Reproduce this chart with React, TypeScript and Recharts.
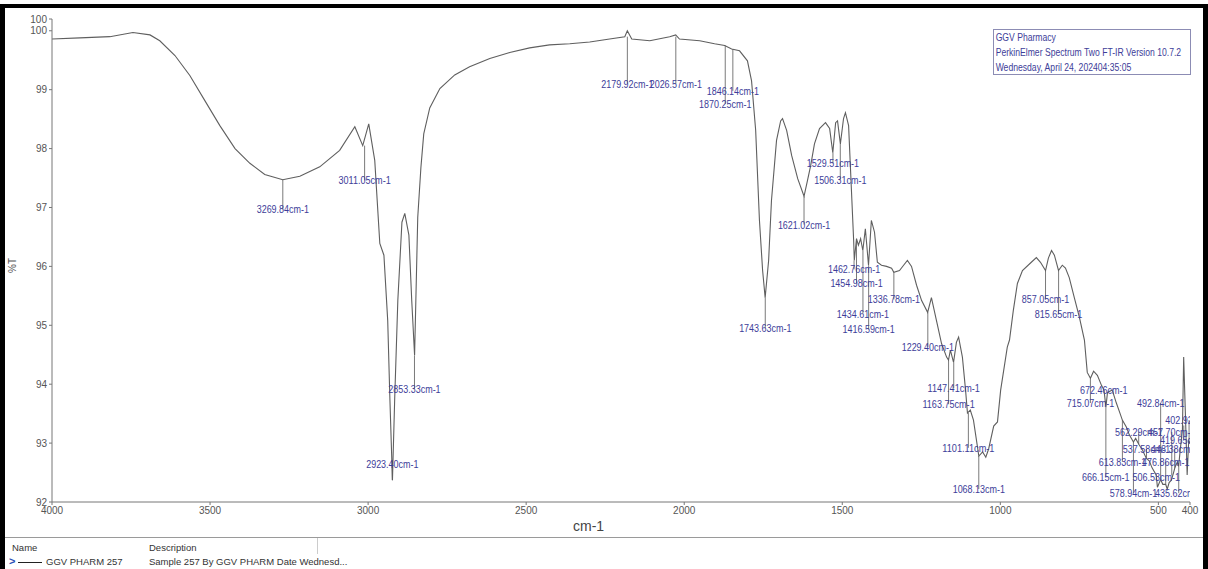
import { ComposedChart, Line, Scatter, XAxis, YAxis, ReferenceLine } from 'recharts';

// spectrum, wavenumber (cm-1) and %T
const wavenumbers = [
  4000, 3912, 3817, 3744, 3690, 3659, 3611, 3564, 3516, 3469, 3421, 3374, 3327, 3270, 3216, 3153,
  3090, 3042, 3017, 2998, 2979, 2963, 2950, 2938, 2931, 2923, 2916, 2906, 2893, 2884, 2871, 2862,
  2853, 2849, 2843, 2833, 2824, 2805, 2773, 2726, 2679, 2615, 2552, 2489, 2426, 2362, 2299, 2236,
  2188, 2180, 2166, 2109, 2046, 2027, 2015, 1951, 1904, 1872, 1850, 1825, 1800, 1787, 1774, 1762,
  1752, 1744, 1733, 1724, 1708, 1695, 1689, 1676, 1660, 1641, 1621, 1610, 1600, 1588, 1572, 1553,
  1540, 1530, 1521, 1515, 1506, 1496, 1490, 1480, 1471, 1464, 1462, 1455, 1449, 1442, 1435, 1427,
  1417, 1408, 1398, 1389, 1376, 1360, 1344, 1337, 1319, 1306, 1294, 1281, 1265, 1249, 1230, 1218,
  1202, 1186, 1170, 1164, 1158, 1148, 1139, 1132, 1120, 1110, 1104, 1095, 1085, 1068, 1056, 1046,
  1037, 1021, 1009, 999, 978, 971, 959, 946, 930, 902, 886, 873, 857, 848, 838, 829,
  816, 804, 794, 782, 766, 750, 734, 725, 715, 705, 693, 680, 672, 666, 661, 646,
  633, 623, 614, 601, 592, 579, 572, 562, 550, 538, 529, 520, 507, 503, 493, 486,
  477, 472, 466, 459, 452, 448, 440, 436, 431, 424, 420, 414, 409, 404, 400,
];
const transmittance = [
  99.86, 99.88, 99.9, 99.97, 99.93, 99.83, 99.58, 99.24, 98.81, 98.39, 98.0, 97.75, 97.56, 97.47, 97.53, 97.69,
  97.97, 98.37, 98.05, 98.42, 97.8, 96.39, 96.19, 95.08, 93.73, 92.37, 93.73, 95.42, 96.75, 96.9, 96.53, 95.42,
  94.49, 95.42, 96.83, 97.68, 98.25, 98.69, 99.02, 99.25, 99.39, 99.53, 99.63, 99.71, 99.76, 99.78, 99.81, 99.86,
  99.9, 100.0, 99.86, 99.83, 99.9, 99.93, 99.86, 99.83, 99.78, 99.75, 99.69, 99.66, 99.49, 99.15, 98.31, 96.78,
  95.93, 95.47, 96.1, 97.12, 98.14, 98.47, 98.51, 98.31, 97.88, 97.49, 97.19, 97.46, 97.71, 98.08, 98.34, 98.44,
  98.34, 97.93, 98.44, 98.47, 98.08, 98.51, 98.61, 98.39, 97.29, 96.44, 96.1, 96.47, 96.36, 96.47, 96.27, 96.64,
  96.02, 96.78, 96.58, 96.07, 96.02, 96.0, 95.97, 95.9, 95.93, 96.02, 96.1, 96.0, 95.68, 95.42, 95.22, 95.47,
  95.08, 94.69, 94.46, 94.41, 94.58, 94.37, 94.71, 94.8, 94.46, 93.9, 93.51, 93.56, 93.39, 92.78, 92.85, 92.76,
  92.9, 93.29, 93.36, 93.9, 94.63, 94.75, 95.25, 95.71, 95.93, 96.07, 96.15, 96.07, 95.93, 96.14, 96.27, 96.19,
  95.93, 96.02, 95.97, 95.81, 95.47, 95.14, 94.75, 94.2, 94.1, 94.22, 94.15, 93.98, 93.9, 93.61, 93.86, 93.9,
  93.68, 93.53, 93.39, 93.27, 93.14, 93.02, 93.08, 92.98, 92.88, 92.74, 92.7, 92.58, 92.46, 92.25, 92.38, 92.3,
  92.3, 92.22, 92.33, 92.37, 92.5, 92.58, 92.68, 92.6, 92.88, 93.22, 94.46, 93.39, 92.46, 93.05, 93.0,
];

// peak picks: wavenumber, %T at the peak, %T level where the label sits
const peakWn = [
  3269.84, 3011.05, 2923.4, 2853.33, 2179.92, 2026.57, 1870.25, 1846.14, 1743.63, 1621.02,
  1529.51, 1506.31, 1462.76, 1454.98, 1434.61, 1416.59, 1336.78, 1229.4, 1163.75, 1147.41,
  1101.11, 1068.13, 857.05, 815.65, 715.07, 672.46, 666.15, 613.83, 578.94, 562.29,
  537.58, 506.53, 492.84, 476.86, 457.7, 448.38, 435.62, 419.65, 402.92,
];
const peakT = [
  97.47, 98.05, 92.37, 94.49, 99.9, 99.9, 99.75, 99.69, 95.47, 97.19,
  97.93, 98.08, 96.1, 96.47, 96.27, 96.02, 95.9, 95.22, 94.41, 94.37,
  93.51, 92.78, 95.93, 95.93, 94.1, 93.9, 93.61, 93.39, 93.02, 92.98,
  92.74, 92.46, 92.38, 92.3, 92.45, 92.58, 92.6, 93.3, 93.05,
];
const labelT = [
  96.97, 97.46, 92.64, 93.92, 99.1, 99.1, 98.76, 98.98, 94.95, 96.71,
  97.75, 97.47, 95.95, 95.71, 95.2, 94.93, 95.44, 94.63, 93.66, 93.93,
  92.92, 92.22, 95.44, 95.19, 93.68, 93.9, 92.42, 92.68, 92.15, 93.19,
  92.9, 92.42, 93.68, 92.68, 93.19, 92.9, 92.15, 93.05, 93.39,
];

const xTicks = [4000, 3500, 3000, 2500, 2000, 1500, 1000, 500, 400];
const yTicks = [92, 93, 94, 95, 96, 97, 98, 99, 100, 100.2];

const infoLines = [
  'GGV Pharmacy',
  'PerkinElmer Spectrum Two FT-IR Version 10.7.2',
  'Wednesday, April 24, 202404:35:05',
];

const FONT = '"Liberation Sans", Arial, sans-serif';
const TRACE = '#5f5f5f';
const PEAK_TEXT = '#3d3d99';

const spectrum = wavenumbers.map((wn, i) => ({ wn, t: transmittance[i] }));
const peaks = peakWn.map((wn, i) => ({
  wn,
  t: peakT[i],
  lt: labelT[i],
  text: `${wn.toFixed(2)}cm-1`,
}));

// narrow, condensed peak label like the instrument software draws
function PeakLabel(props: any) {
  const { cx, cy, payload } = props;
  if (cx == null || cy == null) return null;
  const w = payload.text.length * 4.75;
  return (
    <text
      x={cx - w / 2}
      y={cy + 4}
      fontSize={10}
      fontFamily={FONT}
      fill={PEAK_TEXT}
      textLength={w}
      lengthAdjust="spacingAndGlyphs"
    >
      {payload.text}
    </text>
  );
}

const small = { fontSize: 9.5, color: '#333' };

export default function App() {
  return (
    <div
      style={{
        position: 'absolute',
        left: 0,
        top: 0,
        width: 1208,
        height: 569,
        background: '#fff',
        overflow: 'hidden',
        fontFamily: FONT,
      }}
    >
      <ComposedChart
        width={1208}
        height={540}
        data={spectrum}
        margin={{ top: 19, right: 18, bottom: 0, left: 0 }}
        style={{ position: 'absolute', left: 0, top: 0 }}
      >
        <XAxis
          dataKey="wn"
          type="number"
          domain={[400, 4000]}
          reversed
          ticks={xTicks}
          interval={0}
          allowDataOverflow
          height={38}
          stroke="#777"
          tickSize={3}
          tick={{ fill: '#555', fontSize: 10, fontFamily: FONT }}
        />
        <YAxis
          type="number"
          domain={[92, 100.2]}
          ticks={yTicks}
          interval={0}
          allowDataOverflow
          width={52}
          stroke="#777"
          tickSize={3}
          tickFormatter={(v: number) => String(Math.floor(v))}
          tick={{ fill: '#555', fontSize: 10, fontFamily: FONT }}
        />
        {peaks.map((p) => (
          <ReferenceLine
            key={p.wn}
            segment={[
              { x: p.wn, y: p.t },
              { x: p.wn, y: p.lt },
            ]}
            stroke="#7a7a7a"
            strokeWidth={1}
          />
        ))}
        <Line
          type="linear"
          dataKey="t"
          stroke={TRACE}
          strokeWidth={1.1}
          dot={false}
          isAnimationActive={false}
        />
        <Scatter data={peaks} dataKey="lt" shape={PeakLabel} isAnimationActive={false} />
      </ComposedChart>

      {/* y axis title */}
      <div
        style={{
          position: 'absolute',
          left: 5,
          top: 260,
          fontSize: 10,
          color: '#555',
          transform: 'rotate(-90deg)',
        }}
      >
        %T
      </div>
      {/* x axis title */}
      <div style={{ position: 'absolute', left: 573, top: 518, fontSize: 14, color: '#444' }}>cm-1</div>

      {/* instrument box */}
      <div
        style={{
          position: 'absolute',
          left: 993,
          top: 29,
          width: 198,
          height: 46,
          border: '1px solid #8c8cb4',
          background: '#fff',
          boxSizing: 'border-box',
        }}
      >
        <div
          style={{
            color: PEAK_TEXT,
            fontSize: 10.5,
            lineHeight: '15px',
            paddingLeft: 2,
            whiteSpace: 'nowrap',
            transform: 'scaleX(0.82)',
            transformOrigin: 'left top',
          }}
        >
          {infoLines.map((l) => (
            <div key={l}>{l}</div>
          ))}
        </div>
      </div>

      {/* legend table */}
      <div style={{ position: 'absolute', left: 0, top: 537, width: 1208, borderTop: '1px solid #9a9a9a' }} />
      <div style={{ position: 'absolute', left: 12, top: 542, ...small }}>Name</div>
      <div style={{ position: 'absolute', left: 149, top: 542, ...small }}>Description</div>
      <div style={{ position: 'absolute', left: 317, top: 538, height: 16, borderLeft: '1px solid #ccc' }} />
      <div style={{ position: 'absolute', left: 9, top: 555, fontSize: 11, color: '#2b4fb5', fontWeight: 'bold' }}>
        &gt;
      </div>
      <div style={{ position: 'absolute', left: 18, top: 562, width: 24, borderTop: '1.5px solid #222' }} />
      <div style={{ position: 'absolute', left: 46, top: 556, ...small }}>GGV PHARM 257</div>
      <div style={{ position: 'absolute', left: 149, top: 556, ...small }}>
        Sample 257 By GGV PHARM Date Wednesd...
      </div>

      {/* screenshot frame */}
      <div style={{ position: 'absolute', left: 0, top: 4, width: 1208, height: 4, background: '#000' }} />
      <div style={{ position: 'absolute', left: 0, top: 4, width: 5, height: 565, background: '#000' }} />
      <div style={{ position: 'absolute', left: 1203, top: 4, width: 5, height: 565, background: '#000' }} />
    </div>
  );
}
